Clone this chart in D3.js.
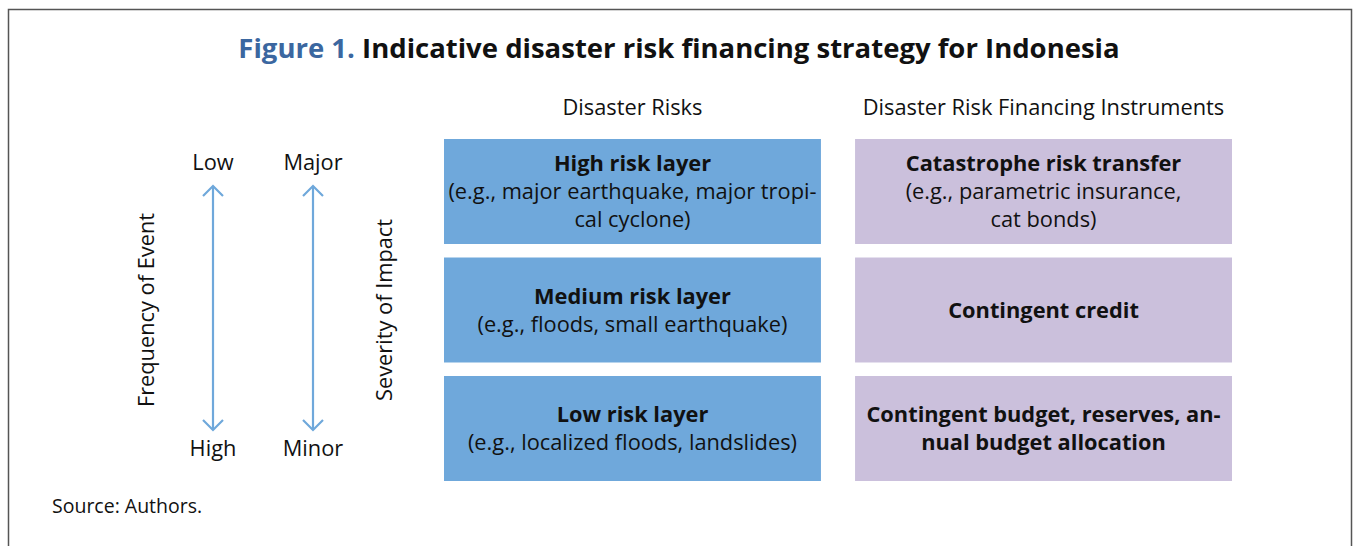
<!DOCTYPE html>
<html>
<head>
<meta charset="utf-8">
<script src="https://cdn.jsdelivr.net/npm/d3@7"></script>
<style>
  body { margin: 0; background: #fff; }
  svg text { font-family: "Open Sans", "Noto Sans", sans-serif; fill: #111; }
</style>
</head>
<body>
<script>
// layers and their text lines, as broken in the figure
var layers = ["High risk layer", "Medium risk layer", "Low risk layer"];
var layerExamples = [
    ["(e.g., major earthquake, major tropi-", "cal cyclone)"],
    ["(e.g., floods, small earthquake)"],
    ["(e.g., localized floods, landslides)"]
];
var instrumentTitles = [
    ["Catastrophe risk transfer"],
    ["Contingent credit"],
    ["Contingent budget, reserves, an-", "nual budget allocation"]
];
var instrumentNotes = [
    ["(e.g., parametric insurance,", "cat bonds)"],
    [],
    []
];
var columns = ["Disaster Risks", "Disaster Risk Financing Instruments"];
var frequencyEnds = ["Low", "High"];
var severityEnds = ["Major", "Minor"];
var axisTitles = ["Frequency of Event", "Severity of Impact"];

var width = 1353, height = 546;
var blue = "#6fa8db", purple = "#cbc0dc", arrowColour = "#6fa8db";
var lineHeight = 28;
var fontSize = "21.8px";

var svg = d3.select("body").append("svg")
    .attr("width", width).attr("height", height);

// frame
svg.append("path")
    .attr("d", "M8.5," + height + "V9.5H1351.5V" + height)
    .attr("fill", "none")
    .attr("stroke", "#555")
    .attr("stroke-width", 1.5);

// title
var title = svg.append("text")
    .attr("x", 679).attr("y", 58)
    .attr("text-anchor", "middle")
    .style("font-size", "27.5px")
    .style("font-weight", "bold");
title.append("tspan").style("fill", "#3b67a0").text("Figure 1. ");
title.append("tspan").style("fill", "#111").text("Indicative disaster risk financing strategy for Indonesia");

var y = d3.scaleBand().domain(d3.range(layers.length)).range([139, 481]).paddingInner(0.114);
var x = d3.scaleBand().domain(columns).range([444, 1232]).paddingInner(0.083);

// column headers
svg.selectAll(".col-head").data(columns).enter().append("text")
    .attr("class", "col-head")
    .attr("x", function(d) { return x(d) + x.bandwidth() / 2; })
    .attr("y", 115)
    .attr("text-anchor", "middle")
    .style("font-size", fontSize)
    .text(function(d) { return d; });

// boxes
function drawColumn(col, colour, boldLines, normalLines) {
    var g = svg.selectAll(".box-" + col.length).data(layers).enter().append("g")
        .attr("transform", function(d, i) { return "translate(" + x(col) + "," + y(i) + ")"; });
    g.append("rect")
        .attr("width", x.bandwidth())
        .attr("height", y.bandwidth())
        .attr("fill", colour);
    g.each(function(d, i) {
        var lines = boldLines[i].map(function(t) { return {t: t, bold: true}; })
            .concat(normalLines[i].map(function(t) { return {t: t, bold: false}; }));
        var top = y.bandwidth() / 2 - (lines.length - 1) * lineHeight / 2;
        d3.select(this).selectAll("text").data(lines).enter().append("text")
            .attr("x", x.bandwidth() / 2)
            .attr("y", function(l, j) { return top + j * lineHeight; })
            .attr("dy", "0.35em")
            .attr("text-anchor", "middle")
            .style("font-size", fontSize)
            .style("font-weight", function(l) { return l.bold ? "bold" : "normal"; })
            .text(function(l) { return l.t; });
    });
}
drawColumn(columns[0], blue, layers.map(function(d) { return [d]; }), layerExamples);
drawColumn(columns[1], purple, instrumentTitles, instrumentNotes);

// arrows
var ax = d3.scalePoint().domain(axisTitles).range([213, 313]);
var ay = d3.scaleLinear().domain([0, 1]).range([186, 430]);

axisTitles.forEach(function(t, i) {
    var cx = ax(t);
    var ends = i === 0 ? frequencyEnds : severityEnds;
    svg.append("line")
        .attr("x1", cx).attr("x2", cx)
        .attr("y1", ay(0)).attr("y2", ay(1))
        .attr("stroke", arrowColour).attr("stroke-width", 2.2);
    svg.append("path")
        .attr("d", "M" + (cx - 10) + "," + (ay(0) + 10) + "L" + cx + "," + ay(0) + "L" + (cx + 10) + "," + (ay(0) + 10))
        .attr("fill", "none").attr("stroke", arrowColour).attr("stroke-width", 2.2);
    svg.append("path")
        .attr("d", "M" + (cx - 10) + "," + (ay(1) - 10) + "L" + cx + "," + ay(1) + "L" + (cx + 10) + "," + (ay(1) - 10))
        .attr("fill", "none").attr("stroke", arrowColour).attr("stroke-width", 2.2);
    svg.append("text").attr("x", cx).attr("y", 170)
        .attr("text-anchor", "middle").style("font-size", fontSize).text(ends[0]);
    svg.append("text").attr("x", cx).attr("y", 456)
        .attr("text-anchor", "middle").style("font-size", fontSize).text(ends[1]);
});

// rotated axis titles
svg.selectAll(".axis-title").data(axisTitles).enter().append("text")
    .attr("class", "axis-title")
    .attr("transform", function(d, i) { return "translate(" + (i === 0 ? 146 : 384) + ",310)rotate(-90)"; })
    .attr("text-anchor", "middle")
    .attr("dy", "0.35em")
    .style("font-size", fontSize)
    .text(function(d) { return d; });

// source
svg.append("text").attr("x", 52).attr("y", 513)
    .style("font-size", "19.5px")
    .text("Source: Authors.");
</script>
</body>
</html>
